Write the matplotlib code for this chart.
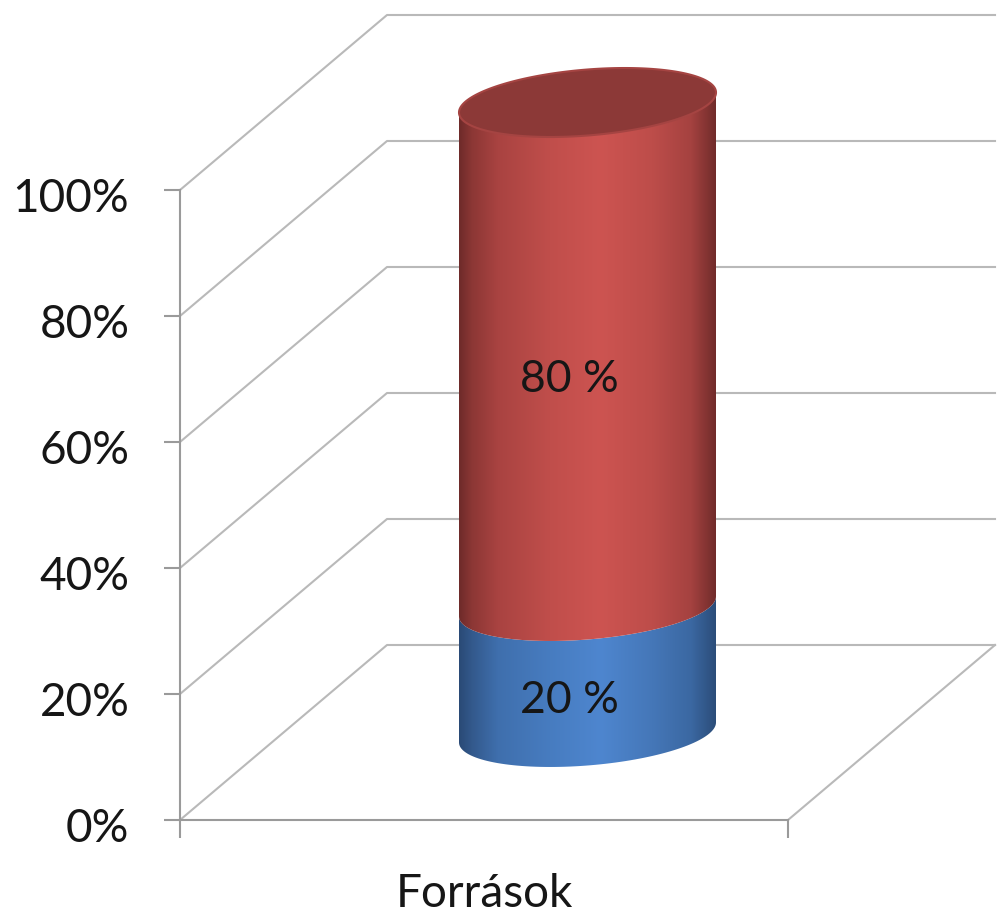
import numpy as np
import matplotlib
matplotlib.use("Agg")
import matplotlib.pyplot as plt
from matplotlib.colors import LinearSegmentedColormap
from matplotlib.patches import PathPatch
from matplotlib.path import Path
from matplotlib.transforms import ScaledTranslation

plt.rcParams['font.family'] = ['Lato', 'DejaVu Sans']

# input values
category = ["Források"]
segments = [20, 80]
segment_labels = ["20 %", "80 %"]
ticks = [0, 20, 40, 60, 80, 100]
tick_labels = ["0%", "20%", "40%", "60%", "80%", "100%"]

# fake 3d: how far the back wall is shifted from the front plane, in data units
depth_x = 207 / 608
depth_y = 175 / 6.3
rx = 128.5 / 608
tilt = 10 / 6.3
ry = 33 / 6.3

grid_col = "#b9b9b9"
axis_col = "#9a9a9a"
text_col = "#161616"

red_cmap = LinearSegmentedColormap.from_list("r", [(0, "#6e2b2a"), (0.05, "#8c3735"), (0.15, "#a94341"), (0.35, "#c04e4b"), (0.55, "#cd5451"), (0.75, "#bd4d4a"), (0.9, "#a54240"), (1, "#6f2b2a")])
blue_cmap = LinearSegmentedColormap.from_list("b", [(0, "#2a4a76"), (0.05, "#33598c"), (0.15, "#3f6fad"), (0.35, "#477cc0"), (0.55, "#4e86cf"), (0.75, "#4577b8"), (0.9, "#3b68a2"), (1, "#2b4c78")])
cmaps = [blue_cmap, red_cmap]
label_drop = [-22, -18]


def proj(x, pct, d):
    return x + d * depth_x, pct + d * depth_y


def rim(pct, t):
    cx, cy = proj(0.5, pct, 0.5)
    return cx + rx * np.cos(t), cy + tilt * np.cos(t) + ry * np.sin(t)


fig = plt.figure(figsize=(10.02, 9.13), dpi=100)
ax = fig.add_axes([180 / 1002, (913 - 820) / 913, 608 / 1002, 630 / 913])
ax.patch.set_alpha(0)

# walls
for p in ticks:
    x0, y0 = proj(0, p, 0)
    x1, y1 = proj(0, p, 1)
    x2, y2 = proj(1, p, 1)
    ax.plot([x0, x1, x2], [y0, y1, y2], color=grid_col, lw=1.5, clip_on=False, zorder=1)
x0, y0 = proj(1, 0, 0)
x1, y1 = proj(1, 0, 1)
ax.plot([x0, x1], [y0, y1], color=grid_col, lw=1.5, clip_on=False, zorder=1)

# cylinder, bottom segment first
front = np.linspace(np.pi, 2 * np.pi, 80)
shade = np.linspace(0, 1, 256).reshape(1, -1)
base = 0
for val, cmap, lab, drop in zip(segments, cmaps, segment_labels, label_drop):
    top = base + val
    xl, yl = rim(base, front)
    xu, yu = rim(top, front[::-1])
    verts = np.column_stack([np.r_[xl, xu], np.r_[yl, yu]])
    patch = PathPatch(Path(np.vstack([verts, verts[0]]), closed=True), fc="none", ec="none", transform=ax.transData)
    ax.add_patch(patch)
    im = ax.imshow(shade, cmap=cmap, aspect="auto", zorder=3 + base / 100,
                   extent=[xl.min(), xl.max(), yl.min(), yu.max()])
    im.set_clip_box(fig.bbox)
    im.set_clip_path(patch)
    cx, cy = proj(0.5, base + val / 2, 0.5)
    ax.annotate(lab, (cx, cy), xytext=(-13, drop), textcoords="offset points", ha="center", va="center",
                fontsize=32, color=text_col, zorder=6)
    base = top

# lid
t = np.linspace(0, 2 * np.pi, 200)
xt, yt = rim(base, t)
ax.fill(xt, yt, fc="#8c3937", ec="#a54442", lw=1.5, zorder=5, clip_on=False)

ax.set_xlim(0, 1)
ax.set_ylim(0, 100)
ax.set_yticks(ticks)
ax.set_yticklabels(tick_labels, fontsize=33, color=text_col)
ax.set_xticks([0, 1])
ax.set_xticklabels([])
ax.set_xticks([0.5], minor=True)
ax.set_xticklabels(category, minor=True, fontsize=33, color=text_col)
ax.tick_params(axis="y", length=11.5, width=1.5, color=axis_col, pad=25)
ax.tick_params(axis="x", which="major", length=13, width=1.5, color=axis_col)
ax.tick_params(axis="x", which="minor", length=0, pad=38)
# labels sit a little below their ticks in the original
for lb in ax.get_yticklabels():
    lb.set_transform(lb.get_transform() + ScaledTranslation(0, -3.5 / 72, fig.dpi_scale_trans))
for side in ["top", "right"]:
    ax.spines[side].set_visible(False)
for side in ["left", "bottom"]:
    ax.spines[side].set_color(axis_col)
    ax.spines[side].set_linewidth(1.5)
    ax.spines[side].set_zorder(2)

fig.savefig("out.png", dpi=100)
